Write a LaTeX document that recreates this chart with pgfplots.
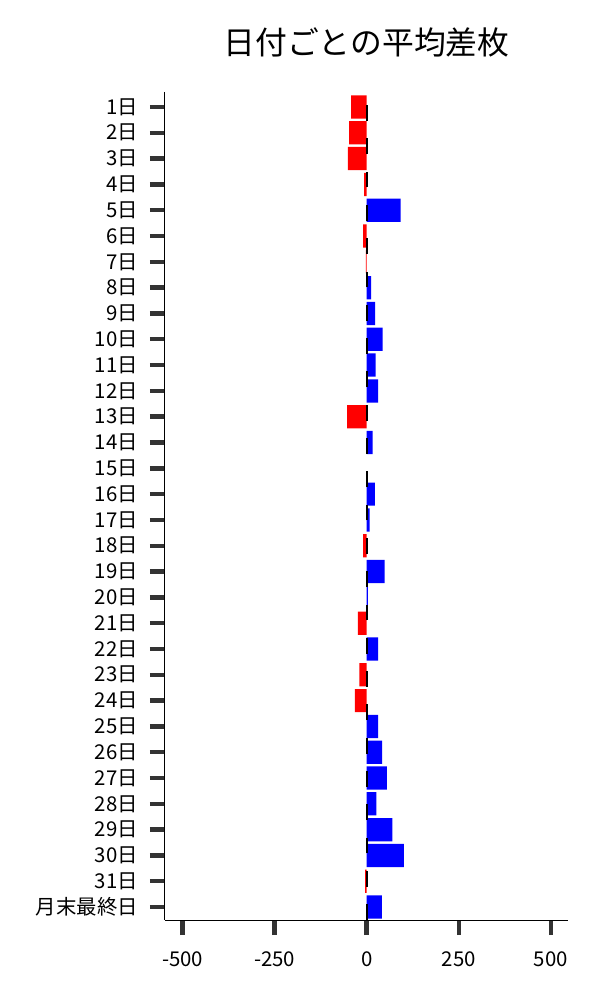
\documentclass[border=0pt]{standalone}
\usepackage{fontspec}
\setmainfont{Noto Sans CJK JP}
\usepackage{pgfplots}
\pgfplotsset{compat=1.18}
\definecolor{tickgray}{HTML}{333333}
\begin{document}
\begin{tikzpicture}
\useasboundingbox (-82.5pt,-40pt) rectangle (217.5pt,460pt);
\begin{axis}[
  at={(0,0)}, anchor=south west,
  scale only axis, width=201.5pt, height=414pt,
  xmin=-548, xmax=547,
  ymin=-0.58, ymax=31.5, y dir=reverse,
  axis x line*=bottom, axis y line*=left,
  axis line style={-, black, line width=0.5pt},
  xtick={-500,-250,0,250,500},
  xticklabels={-500,-250,0,250,500},
  ytick={0,...,31},
  yticklabels={1日,2日,3日,4日,5日,6日,7日,8日,9日,10日,11日,12日,13日,14日,15日,16日,17日,18日,19日,20日,21日,22日,23日,24日,25日,26日,27日,28日,29日,30日,31日,月末最終日},
  tick align=outside,
  major tick length=7.5pt,
  major tick style={draw=tickgray, line width=2.2pt},
  tick label style={font=\fontsize{10.2pt}{12pt}\selectfont},
  yticklabel style={xshift=-2.5pt},
  xticklabel style={yshift=-5pt},
  title={日付ごとの平均差枚},
  title style={font=\fontsize{15.9pt}{18pt}\selectfont, at={(0.5,1)}, anchor=base, yshift=12.5pt},
]
\addplot[xbar, bar width=0.9, bar shift=0pt, fill=red, draw=none] coordinates {
(-42,0) (-48,1) (-51,2) (-7,3) (-10,5) (-2,6) (-53,12) (-10,17) (-24,20) (-20,22) (-32,23) (-4,30)
};
\addplot[xbar, bar width=0.9, bar shift=0pt, fill=blue, draw=none] coordinates {
(92,4) (12,7) (23,8) (43,9) (24,10) (31,11) (16,13) (22,15) (8,16) (49,18) (3,19) (31,21) (31,24) (42,25) (55,26) (26,27) (70,28) (101,29) (41,31)
};
\addplot[black, line width=1.1pt, dash pattern=on 7.9pt off 8.75pt] coordinates {(0,31.5) (0,-0.58)};
\end{axis}
\end{tikzpicture}
\end{document}
